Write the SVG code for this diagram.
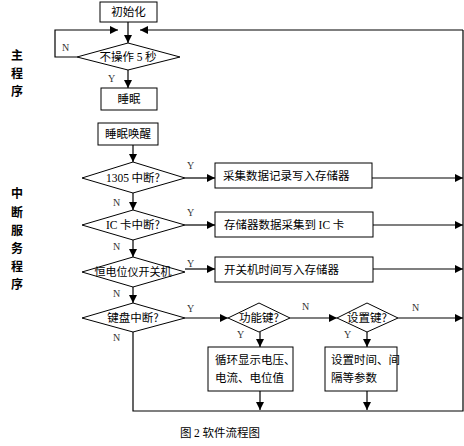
<svg xmlns="http://www.w3.org/2000/svg" width="464" height="446" viewBox="0 0 464 446">
<defs>
<marker id="ah" viewBox="0 0 10 10" refX="10" refY="5" markerWidth="8" markerHeight="8" markerUnits="userSpaceOnUse" orient="auto">
<path d="M0,0 L10,5 L0,10 z" fill="#000"/>
</marker>
</defs>
<style>
.b{fill:#fff;stroke:#000;stroke-width:1}
.c{fill:none;stroke:#000;stroke-width:1.2}
.t{font-family:"Noto Sans CJK SC","Liberation Sans",sans-serif;font-size:11.5px;fill:#000}
.m{text-anchor:middle}
.l{font-family:"Liberation Serif",serif;font-size:10px;fill:#333}
.s{font-family:"Noto Sans CJK SC",sans-serif;font-size:12px;font-weight:bold;fill:#000;text-anchor:middle}
</style>
<rect width="464" height="446" fill="#fff"/>
<g id="connectors">
<path class="c" d="M128,22 V43" marker-end="url(#ah)"/>
<path class="c" d="M77,57 H55 V30 H118" marker-end="url(#ah)"/>
<path class="c" d="M463,30 H140" marker-end="url(#ah)"/>
<path class="c" d="M128,70 V88" marker-end="url(#ah)"/>
<path class="c" d="M133,145 V162" marker-end="url(#ah)"/>
<path class="c" d="M185,178 H215" marker-end="url(#ah)"/>
<path class="c" d="M372,178 H463" marker-end="url(#ah)"/>
<path class="c" d="M133,193 V210" marker-end="url(#ah)"/>
<path class="c" d="M185,225 H215" marker-end="url(#ah)"/>
<path class="c" d="M373,225 H463" marker-end="url(#ah)"/>
<path class="c" d="M133,240 V257" marker-end="url(#ah)"/>
<path class="c" d="M185,269 H215" marker-end="url(#ah)"/>
<path class="c" d="M373,269 H463" marker-end="url(#ah)"/>
<path class="c" d="M133,287 V303" marker-end="url(#ah)"/>
<path class="c" d="M185,318 H228" marker-end="url(#ah)"/>
<path class="c" d="M290,318 H337" marker-end="url(#ah)"/>
<path class="c" d="M398,318 H463" marker-end="url(#ah)"/>
<path class="c" d="M260,332 V347" marker-end="url(#ah)"/>
<path class="c" d="M367,332 V347" marker-end="url(#ah)"/>
<path class="c" d="M260,391 V410" marker-end="url(#ah)"/>
<path class="c" d="M367,391 V410" marker-end="url(#ah)"/>
<path class="c" d="M133,332 V411 H463 V30"/>
<text class="l" x="62" y="51">N</text>
<text class="l" x="108" y="82">Y</text>
<text class="l" x="187" y="169">Y</text>
<text class="l" x="113" y="206">N</text>
<text class="l" x="187" y="216">Y</text>
<text class="l" x="113" y="250">N</text>
<text class="l" x="187" y="267">Y</text>
<text class="l" x="113" y="297">N</text>
<text class="l" x="187" y="312">Y</text>
<text class="l" x="113" y="341">N</text>
<text class="l" x="302" y="310">N</text>
<text class="l" x="412" y="311">N</text>
<text class="l" x="237" y="338">Y</text>
<text class="l" x="344" y="338">Y</text>
</g>
<g id="n-init"><rect class="b" x="100" y="2" width="57" height="20"/><text class="t m" x="128.5" y="16">初始化</text></g>
<g id="n-idle"><polygon class="b" points="77,57 128,43 180,57 128,70"/><text class="t m" x="128" y="61">不操作 <tspan font-family="Liberation Serif">5</tspan> 秒</text></g>
<g id="n-sleep"><rect class="b" x="101" y="88" width="56" height="22"/><text class="t m" x="129" y="103">睡眠</text></g>
<g id="n-wake"><rect class="b" x="98" y="123" width="60" height="22"/><text class="t m" x="128" y="138">睡眠唤醒</text></g>
<g id="n-1305"><polygon class="b" points="82,178 133,162 185,178 133,193"/><text class="t m" x="133" y="182"><tspan font-family="Liberation Serif">1305</tspan> 中断?</text></g>
<g id="n-collect"><rect class="b" x="215" y="163" width="157" height="25"/><text class="t" x="223" y="180">采集数据记录写入存储器</text></g>
<g id="n-ic"><polygon class="b" points="82,225 133,210 185,225 133,240"/><text class="t m" x="133" y="229"><tspan font-family="Liberation Serif">IC</tspan> 卡中断?</text></g>
<g id="n-store"><rect class="b" x="215" y="212" width="158" height="25"/><text class="t" x="224" y="229">存储器数据采集到 <tspan font-family="Liberation Serif">IC</tspan> 卡</text></g>
<g id="n-onoff"><polygon class="b" points="82,272 133,257 185,272 133,287"/><text class="t m" x="133" y="276" style="font-size:11px">恒电位仪开关机</text></g>
<g id="n-write"><rect class="b" x="215" y="257" width="158" height="25"/><text class="t" x="224" y="274">开关机时间写入存储器</text></g>
<g id="n-kbd"><polygon class="b" points="82,318 133,303 185,318 133,332"/><text class="t m" x="133" y="322">键盘中断?</text></g>
<g id="n-func"><polygon class="b" points="228,318 259,303 290,318 259,332"/><text class="t m" x="259" y="322">功能键?</text></g>
<g id="n-set"><polygon class="b" points="337,318 367,303 398,318 367,332"/><text class="t m" x="367" y="322">设置键?</text></g>
<g id="n-show"><rect class="b" x="208" y="347" width="85" height="44"/><text class="t" x="215" y="364">循环显示电压、</text><text class="t" x="215" y="382">电流、电位值</text></g>
<g id="n-param"><rect class="b" x="325" y="347" width="72" height="44"/><text class="t" x="331" y="364">设置时间、间</text><text class="t" x="331" y="382">隔等参数</text></g>
<g id="labels">
<text class="s" x="17" y="60">主</text>
<text class="s" x="17" y="78">程</text>
<text class="s" x="17" y="96">序</text>
<text class="s" x="17" y="198">中</text>
<text class="s" x="17" y="217">断</text>
<text class="s" x="17" y="235">服</text>
<text class="s" x="17" y="253">务</text>
<text class="s" x="17" y="271">程</text>
<text class="s" x="17" y="289">序</text>
<text class="t" x="180" y="437">图 <tspan font-family="Liberation Serif">2</tspan> 软件流程图</text>
</g>
</svg>
